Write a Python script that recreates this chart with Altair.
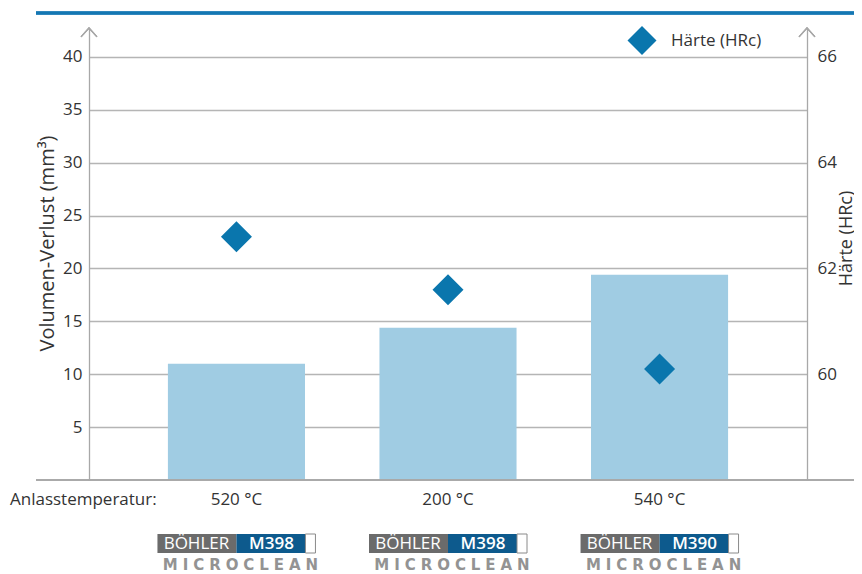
import altair as alt
import pandas as pd

# ---- data ----
temps = ["520 °C", "200 °C", "540 °C"]
volume_loss = [11.0, 14.4, 19.4]          # mm^3 (left axis)
hardness = [62.6, 61.6, 60.1]             # HRc (right axis)
steels = ["M398", "M398", "M390"]
left_ticks = [5, 10, 15, 20, 25, 30, 35, 40]
right_ticks = [60, 62, 64, 66]

SP = "\u2004"
df = pd.DataFrame({
    "temp": temps,
    "vol": volume_loss,
    "hrc": hardness,
    "steel": steels,
    "series": ["Härte (HRc)"] * 3,
    "brand": ["BÖHLER"] * 3,
    "mc": [SP.join("MICROCLEAN")] * 3,
})

FONT = "Open Sans"
TXT = "#333333"
GRID = "#b5b5b5"
AXIS = "#a8a8a8"
BAR = "#a0cce3"
DIAM = "#0a76ad"
W, H = 718, 452

xenc = alt.X("temp:N", sort=temps,
             scale=alt.Scale(paddingInner=0.352, paddingOuter=0.373),
             axis=None)
xplain = alt.X("temp:N", sort=temps, axis=None)

base = alt.Chart(df)

bars = base.mark_bar(color=BAR).encode(
    x=xenc,
    y=alt.Y("vol:Q",
            scale=alt.Scale(domain=[0, 42.74], nice=False, zero=True),
            axis=alt.Axis(values=left_ticks, grid=True, gridColor=GRID, gridWidth=1.5,
                          domain=True, domainColor=AXIS, domainWidth=1.3,
                          ticks=False, labelFont=FONT, labelFontSize=17,
                          labelColor=TXT, labelPadding=7,
                          title="Volumen-Verlust (mm³)", titleFont=FONT,
                          titleFontSize=20, titleFontWeight="normal",
                          titleColor=TXT, titleAngle=270, titleX=-42, titleY=215,
                          titleAlign="center", titleBaseline="middle")),
)

points = base.mark_point(shape="diamond", filled=True, size=961, opacity=1).encode(
    x=xplain,
    y=alt.Y("hrc:Q",
            scale=alt.Scale(domain=[58, 66.548], nice=False, zero=False),
            axis=alt.Axis(orient="right", values=right_ticks, grid=False,
                          domain=True, domainColor=AXIS, domainWidth=1.3,
                          ticks=False, labelFont=FONT, labelFontSize=17,
                          labelColor=TXT, labelPadding=10,
                          title="Härte (HRc)", titleFont=FONT, titleFontSize=18,
                          titleFontWeight="normal", titleColor=TXT,
                          titleAngle=270, titleX=44, titleY=210,
                          titleAlign="center", titleBaseline="alphabetic")),
    color=alt.Color("series:N", scale=alt.Scale(range=[DIAM]),
                    legend=alt.Legend(title=None, orient="none", legendX=537.5,
                                      legendY=-3, symbolType="diamond",
                                      symbolSize=841, symbolOpacity=1,
                                      labelFont=FONT, labelFontSize=17,
                                      labelColor=TXT, labelOffset=13.5, padding=0)),
)

# category labels (x axis labels)
xlabels = base.mark_text(baseline="middle", font=FONT, fontSize=17, color=TXT).encode(
    x=xplain, y=alt.value(472), text="temp:N")

# decorations: axis arrows, baseline, top rule
arrow_shape = "M-1,1.1L0,0L1,1.1"
arrow_l = alt.Chart(df).mark_point(
    shape=arrow_shape, filled=False, size=256, color=AXIS, strokeWidth=1.2, opacity=1
).encode(x=alt.value(0), y=alt.value(0))
arrow_r = alt.Chart(df).mark_point(
    shape=arrow_shape, filled=False, size=256, color=AXIS, strokeWidth=1.2, opacity=1
).encode(x=alt.value(W), y=alt.value(0))

baseline = alt.Chart(df).mark_rule(color=AXIS, strokeWidth=1.5).encode(
    x=alt.value(-53), x2=alt.value(773), y=alt.value(H))
toprule = alt.Chart(df).mark_rule(color="#1477b3", strokeWidth=3).encode(
    x=alt.value(-53), x2=alt.value(773), y=alt.value(-15))

anlass = alt.Chart(pd.DataFrame({"t": ["Anlasstemperatur:"]})).mark_text(
    align="left", baseline="middle", font=FONT, fontSize=17, color=TXT
).encode(text="t:N", x=alt.value(-79), y=alt.value(472))

# steel grade logos under each category
grey_box = base.mark_rect(width=79, xOffset=-39.5, color="#6b6b6b").encode(
    x=xplain, y=alt.value(506), y2=alt.value(525))
blue_box = base.mark_rect(width=69, xOffset=34.5, color="#0d5a8d").encode(
    x=xplain, y=alt.value(506), y2=alt.value(525))
white_box = base.mark_rect(width=10, xOffset=74, fill="white", stroke="#8a8a8a",
                           strokeWidth=1).encode(
    x=xplain, y=alt.value(506), y2=alt.value(525))
brand_txt = base.mark_text(xOffset=-40, baseline="middle", font=FONT, fontSize=17,
                           color="white").encode(
    x=xplain, y=alt.value(516), text="brand:N")
steel_txt = base.mark_text(xOffset=35, baseline="middle", font=FONT, fontSize=17,
                           fontWeight=600, color="white").encode(
    x=xplain, y=alt.value(516), text="steel:N")
mc_txt = base.mark_text(xOffset=4, baseline="middle", font="DejaVu Sans",
                        fontSize=15, fontWeight="bold", color="#939393").encode(
    x=xplain, y=alt.value(536.5), text="mc:N")

chart = alt.layer(
    bars, points, xlabels, arrow_l, arrow_r, baseline, toprule, anlass,
    grey_box, blue_box, white_box, brand_txt, steel_txt, mc_txt
).resolve_scale(y="independent").properties(
    width=W, height=H,
    autosize=alt.AutoSizeParams(type="none"),
    padding={"left": 81, "top": 20, "right": 47, "bottom": 94},
).configure_view(stroke=None)

chart.save("out.html", embed_options={"renderer": "svg", "actions": False})
